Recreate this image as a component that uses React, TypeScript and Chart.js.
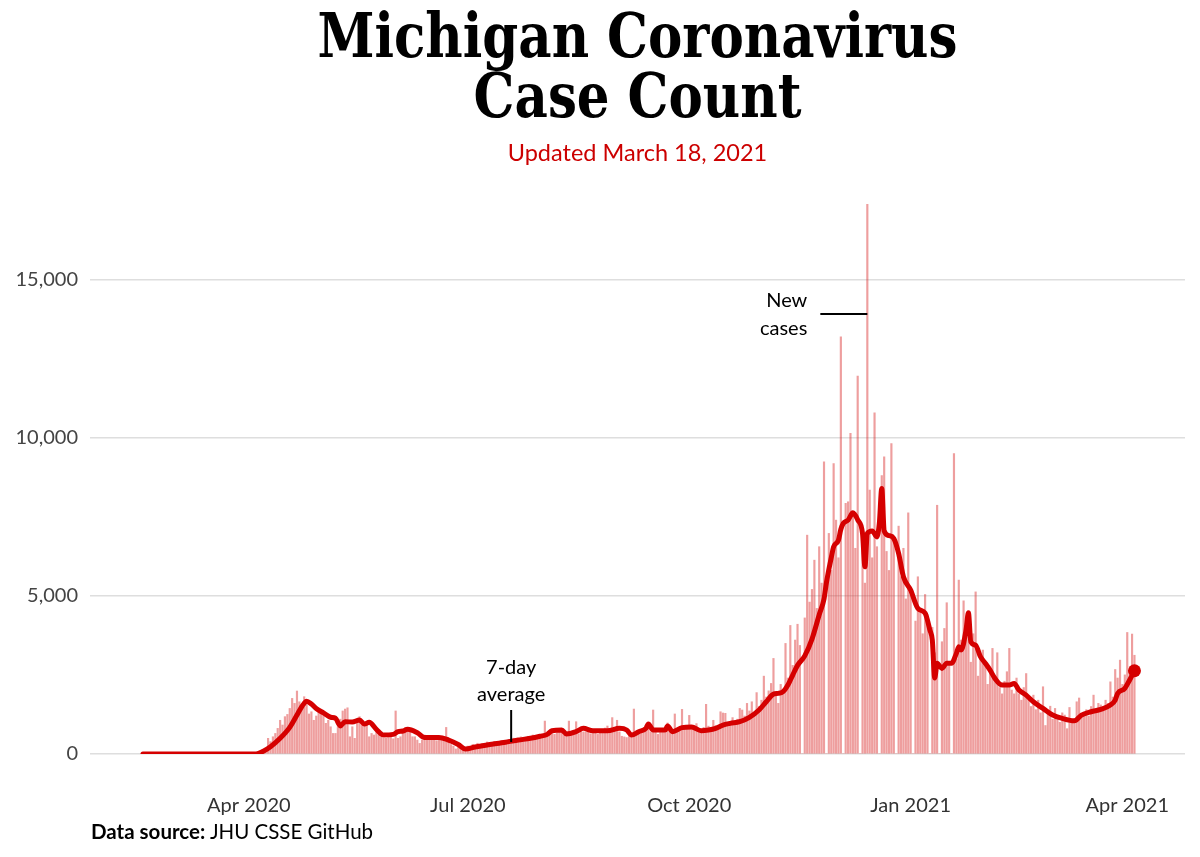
import React, { useEffect, useLayoutEffect, useRef } from 'react';
import { Chart, registerables } from 'chart.js';

Chart.register(...registerables);

// ---------- text ----------
const TITLE_LINES = ['Michigan Coronavirus', 'Case Count'];
const SUBTITLE = 'Updated March 18, 2021';
const SOURCE_BOLD = 'Data source:';
const SOURCE_REST = ' JHU CSSE GitHub';

// ---------- data (day index 0 = first day of the series) ----------
const dailyCases = [
  0, 0, 0, 0, 0, 0, 0, 0, 0, 0,
  0, 0, 0, 0, 0, 0, 0, 0, 0, 0,
  0, 0, 0, 0, 0, 0, 0, 0, 0, 0,
  0, 0, 0, 0, 0, 0, 0, 0, 0, 0,
  0, 0, 0, 0, 0, 0, 0, 2, 14, 33,
  53, 110, 495, 390, 545, 650, 810, 1065, 915, 1180,
  1250, 1440, 1757, 1600, 1990, 1650, 1495, 1810, 1545, 1265,
  1335, 1065, 1200, 1440, 1390, 1230, 970, 1065, 860, 650,
  650, 860, 1100, 1360, 1420, 1460, 545, 860, 495, 1065,
  1180, 970, 970, 915, 545, 650, 600, 760, 600, 545,
  495, 495, 520, 600, 480, 1360, 495, 545, 705, 840,
  810, 705, 545, 545, 440, 335, 440, 600, 495, 500,
  540, 480, 420, 560, 520, 470, 840, 380, 300, 250,
  160, 220, 300, 180, 150, 250, 230, 300, 260, 340,
  290, 330, 280, 380, 300, 340, 400, 360, 310, 420,
  400, 380, 460, 440, 500, 420, 390, 540, 500, 480,
  560, 520, 600, 560, 470, 620, 600, 1040, 640, 700,
  760, 620, 680, 740, 700, 600, 640, 1040, 620, 700,
  1020, 640, 760, 700, 705, 820, 640, 780, 700, 620,
  760, 700, 820, 884, 680, 1150, 740, 1065, 700, 560,
  540, 520, 600, 560, 1420, 720, 700, 760, 800, 780,
  820, 700, 1390, 740, 620, 760, 800, 680, 980, 720,
  700, 1265, 760, 820, 1410, 840, 900, 1220, 800, 860,
  960, 780, 700, 840, 1570, 880, 760, 1065, 900, 820,
  1335, 1295, 1285, 980, 900, 1150, 1000, 1100, 1440, 1390,
  1200, 1600, 1360, 1650, 1300, 1940, 1500, 1700, 2460, 1800,
  1995, 2230, 3020, 1900, 1600, 2200, 2000, 3494, 2400, 4062,
  2800, 3600, 4100, 3430, 0, 4300, 6915, 4800, 5200, 6125,
  4600, 6550, 5400, 9230, 0, 6970, 5800, 9180, 7390, 6200,
  13180, 0, 7920, 7970, 10130, 7650, 6500, 11940, 0, 7130,
  5400, 17370, 8340, 6200, 10780, 6550, 0, 8800, 9390, 6400,
  5800, 9810, 6860, 0, 7200, 5600, 6500, 4900, 7620, 5200,
  0, 4200, 5600, 4500, 3800, 5040, 4400, 0, 4000, 3200,
  7860, 0, 3547, 3967, 4780, 2800, 0, 9494, 3000, 5495,
  3600, 4840, 3900, 4200, 2900, 3800, 5122, 2460, 3000, 3284,
  2800, 2200, 2600, 3337, 2400, 3200, 2100, 1900, 2300, 2600,
  3337, 2020, 1900, 2400, 1900, 1700, 2100, 2542, 1700, 1500,
  1860, 1400, 1700, 1300, 2125, 900, 1300, 1510, 1100, 1440,
  1200, 1000, 1300, 1230, 800, 1470, 1000, 1100, 1650, 1770,
  1200, 1300, 1400, 1200, 1500, 1860, 1400, 1600, 1550, 1500,
  1700, 1600, 2280, 1800, 2670, 2400, 2966, 2200, 2500, 3840,
  2600, 3790, 3120,
];

const avgDays = [
  0, 47, 50, 53, 57, 61, 64, 66, 67, 68, 70, 72, 75, 78, 80, 82, 84, 87, 90, 92,
  94, 97, 100, 104, 106, 108, 110, 114, 117, 120, 123, 127, 131, 134, 138, 143, 148, 152, 156, 161,
  165, 168, 170, 174, 176, 180, 183, 187, 193, 198, 201, 203, 206, 209, 210, 212, 217, 218, 220, 224,
  228, 232, 235, 238, 241, 244, 248, 252, 256, 259, 262, 264, 266, 268, 270, 272, 275, 278, 281, 283,
  284, 286, 287, 289, 290, 291, 293, 295, 297, 299, 300, 301, 303, 305, 306, 307, 308, 310, 312, 314,
  316, 319, 322, 325, 327, 328, 329, 330, 332, 334, 336, 338, 339, 340, 342, 343, 344, 346, 348, 350,
  352, 354, 357, 360, 362, 364, 367, 370, 374, 378, 382, 387, 390, 394, 398, 402, 404, 405, 408, 410,
  412,
];
const avgValues = [
  0, 0, 90, 230, 495, 840, 1230, 1500, 1600, 1670, 1580, 1440, 1300, 1160, 1130, 885, 1020, 1010, 1075, 950,
  1000, 780, 600, 620, 705, 725, 780, 670, 520, 520, 525, 440, 300, 160, 220, 285, 340, 390, 440, 495,
  560, 620, 735, 760, 630, 705, 810, 735, 735, 810, 758, 600, 705, 810, 947, 758, 758, 885, 705, 832,
  853, 737, 758, 810, 915, 968, 1020, 1158, 1390, 1650, 1895, 1915, 1970, 2180, 2495, 2800, 3100, 3630, 4400, 4900,
  5410, 6200, 6550, 6760, 7100, 7285, 7390, 7620, 7400, 6970, 5915, 6970, 7050, 6860, 7300, 8390, 7050, 6900, 6810, 6340,
  5600, 5180, 4600, 4450, 3915, 3600, 2400, 2870, 2705, 2870, 2870, 3180, 3390, 3285, 3915, 4460, 3545, 3440, 3075, 2870,
  2650, 2390, 2180, 2180, 2230, 2020, 1860, 1650, 1440, 1230, 1125, 1050, 1230, 1335, 1410, 1545, 1705, 1915, 2075, 2340,
  2630,
];

const xTickDays = [44, 135, 227, 319, 409];
const xTickLabels = ['Apr 2020', 'Jul 2020', 'Oct 2020', 'Jan 2021', 'Apr 2021'];
const yTickValues = [0, 5000, 10000, 15000];

const X_MIN = -22;
const X_MAX = 433;
const Y_MAX = 17600;

// annotation anchors (data space)
const NEW_CASES_DAY = 301;
const NEW_CASES_LEVEL = 13900;
const AVG_LABEL_DAY = 153;
const AVG_LABEL_LEVEL = 380;

const RED = '#d50000';
const BAR = 'rgba(218, 40, 40, 0.45)';

const annotationPlugin = {
  id: 'textAnnotations',
  afterDatasetsDraw(chart: any) {
    const { ctx, scales } = chart;
    const x = scales.x;
    const y = scales.y;
    ctx.save();
    ctx.strokeStyle = '#000';
    ctx.lineWidth = 2;
    ctx.fillStyle = '#000';
    ctx.font = '20px Lato';
    ctx.textBaseline = 'middle';

    const nx = x.getPixelForValue(NEW_CASES_DAY);
    const ny = y.getPixelForValue(NEW_CASES_LEVEL);
    ctx.beginPath();
    ctx.moveTo(nx - 47, ny);
    ctx.lineTo(nx, ny);
    ctx.stroke();
    ctx.textAlign = 'right';
    ctx.fillText('New', nx - 60, ny - 14);
    ctx.fillText('cases', nx - 60, ny + 14);

    const ax = x.getPixelForValue(AVG_LABEL_DAY);
    const ay = y.getPixelForValue(AVG_LABEL_LEVEL);
    ctx.beginPath();
    ctx.moveTo(ax, ay);
    ctx.lineTo(ax, ay - 32);
    ctx.stroke();
    ctx.textAlign = 'center';
    ctx.fillText('7-day', ax, ay - 74);
    ctx.fillText('average', ax, ay - 47);
    ctx.restore();
  },
};

export default function App() {
  const canvasRef = useRef<HTMLCanvasElement>(null);
  const titleRef = useRef<HTMLDivElement>(null);
  const line1Ref = useRef<HTMLSpanElement>(null);

  useLayoutEffect(() => {
    const span = line1Ref.current;
    const box = titleRef.current;
    if (!span || !box) return;
    const w = span.getBoundingClientRect().width;
    if (w > 0) box.style.transform = `scaleX(${640 / w})`;
  }, []);

  useEffect(() => {
    const canvas = canvasRef.current;
    if (!canvas) return;
    const lastIdx = avgDays.length - 1;
    const chart = new Chart(canvas, {
      type: 'bar',
      data: {
        datasets: [
          {
            type: 'line',
            data: [{ x: avgDays[lastIdx], y: avgValues[lastIdx] }],
            showLine: false,
            pointRadius: 6.5,
            pointBackgroundColor: RED,
            pointBorderWidth: 0,
            order: 1,
          } as any,
          {
            type: 'line',
            data: avgDays.map((d, i) => ({ x: d, y: avgValues[i] })),
            borderColor: RED,
            borderWidth: 5,
            pointRadius: 0,
            cubicInterpolationMode: 'monotone',
            borderCapStyle: 'round',
            borderJoinStyle: 'round',
            order: 2,
          } as any,
          {
            type: 'bar',
            data: dailyCases.map((v, i) => ({ x: i, y: v })),
            backgroundColor: BAR,
            barThickness: 1.5,
            order: 3,
          } as any,
        ],
      },
      options: {
        animation: false,
        responsive: false,
        maintainAspectRatio: false,
        layout: { padding: { top: 197, right: 15, left: 0, bottom: 0 } },
        plugins: {
          legend: { display: false },
          tooltip: { enabled: false },
          title: { display: false },
        },
        scales: {
          x: {
            type: 'linear',
            min: X_MIN,
            max: X_MAX,
            offset: false,
            grid: { display: false },
            border: { display: false },
            afterBuildTicks: (s: any) => {
              s.ticks = xTickDays.map((v) => ({ value: v }));
            },
            afterFit: (s: any) => {
              s.height = 103;
              s.paddingLeft = 0;
              s.paddingRight = 0;
            },
            ticks: {
              autoSkip: false,
              maxRotation: 0,
              padding: 32,
              color: '#333',
              font: { family: 'Lato', size: 20 },
              callback: (v: any) => {
                const i = xTickDays.indexOf(Number(v));
                return i >= 0 ? xTickLabels[i] : '';
              },
            },
          },
          y: {
            type: 'linear',
            min: 0,
            max: Y_MAX,
            afterBuildTicks: (s: any) => {
              s.ticks = yTickValues.map((v) => ({ value: v }));
            },
            afterFit: (s: any) => {
              s.width = 90;
              s.paddingTop = 0;
              s.paddingBottom = 0;
            },
            grid: { color: '#dedede', lineWidth: 1.5, drawTicks: false },
            border: { display: false },
            ticks: {
              padding: 12,
              color: '#444',
              font: { family: 'Lato', size: 20 },
              callback: (v: any) => Number(v).toLocaleString('en-US'),
            },
          },
        },
      } as any,
      plugins: [annotationPlugin],
    });
    return () => chart.destroy();
  }, []);

  return (
    <div style={{ position: 'absolute', left: 0, top: 0, width: 1200, height: 857, background: '#fff', overflow: 'hidden' }}>
      <canvas ref={canvasRef} width={1200} height={857} style={{ position: 'absolute', left: 0, top: 0, width: 1200, height: 857 }} />
      <div
        ref={titleRef}
        style={{
          position: 'absolute',
          left: 90,
          width: 1095,
          top: 6,
          textAlign: 'center',
          fontFamily: '"DejaVu Serif Condensed", "DejaVu Serif", serif',
          fontStretch: 'condensed',
          fontWeight: 'bold',
          fontSize: 61,
          lineHeight: '60px',
          color: '#000',
          transformOrigin: '50% 50%',
          whiteSpace: 'nowrap',
        }}
      >
        <div><span ref={line1Ref}>{TITLE_LINES[0]}</span></div>
        <div><span>{TITLE_LINES[1]}</span></div>
      </div>
      <div
        style={{
          position: 'absolute',
          left: 90,
          width: 1095,
          top: 138,
          textAlign: 'center',
          fontFamily: 'Lato, sans-serif',
          fontSize: 23.5,
          lineHeight: '28px',
          color: '#cc0000',
        }}
      >
        {SUBTITLE}
      </div>
      <div
        style={{
          position: 'absolute',
          left: 91,
          top: 819,
          fontFamily: 'Lato, sans-serif',
          fontSize: 20.5,
          lineHeight: '25px',
          color: '#000',
          whiteSpace: 'nowrap',
        }}
      >
        <b>{SOURCE_BOLD}</b>
        {SOURCE_REST}
      </div>
    </div>
  );
}
